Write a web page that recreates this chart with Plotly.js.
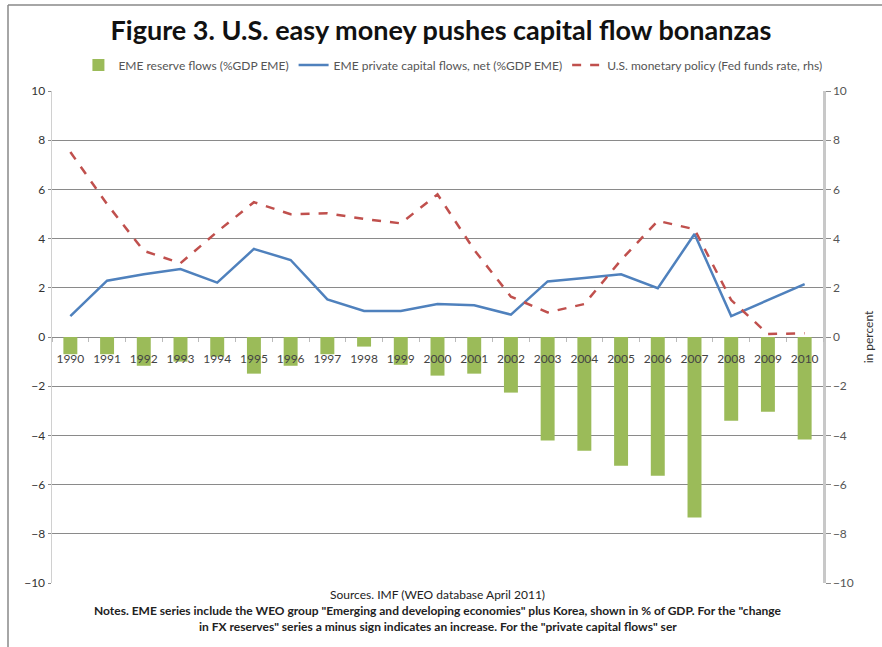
<!DOCTYPE html>
<html>
<head>
<meta charset="utf-8">
<script src="https://cdn.plot.ly/plotly-3.0.1.min.js"></script>
<style>
html,body{margin:0;padding:0;background:#fff;}
#chart{width:882px;height:647px;}
</style>
</head>
<body>
<div id="chart"></div>
<script>
const years = ['1990','1991','1992','1993','1994','1995','1996','1997','1998','1999','2000','2001','2002','2003','2004','2005','2006','2007','2008','2009','2010'];
const reserveFlows = [-0.7,-0.7,-1.17,-1.0,-0.8,-1.49,-1.17,-0.7,-0.39,-1.13,-1.57,-1.49,-2.26,-4.21,-4.62,-5.23,-5.64,-7.34,-3.4,-3.04,-4.17];
const privateFlows = [0.85,2.29,2.55,2.76,2.21,3.58,3.13,1.53,1.06,1.06,1.34,1.29,0.91,2.26,2.4,2.55,1.98,4.19,0.85,1.5,2.15];
const fedFunds = [7.52,5.4,3.5,3.0,4.28,5.48,4.99,5.03,4.8,4.62,5.8,3.54,1.64,1.0,1.34,3.13,4.72,4.38,1.5,0.12,0.15];
const yTicks = [-10,-8,-6,-4,-2,0,2,4,6,8,10];

const FONT = 'Lato, "Open Sans", sans-serif';

const traces = [
  {type:'bar', x:years, y:reserveFlows, name:'EME reserve flows (%GDP EME)',
   marker:{color:'#9BBB59'}, width:0.38},
  {type:'scatter', mode:'lines', x:years, y:privateFlows, name:'EME private capital flows, net (%GDP EME)',
   line:{color:'#4F81BD', width:2.5}},
  {type:'scatter', mode:'lines', x:years, y:fedFunds, name:'U.S. monetary policy (Fed funds rate, rhs)',
   yaxis:'y2', line:{color:'#C0504D', width:2.5, dash:'dash'}}
];

const layout = {
  width:882, height:647,
  margin:{l:52, r:59, t:91, b:64},
  paper_bgcolor:'#fff', plot_bgcolor:'#fff',
  font:{family:FONT, size:11, color:'#333'},
  showlegend:true,
  title:{text:'<b>Figure 3. U.S. easy money pushes capital flow bonanzas</b>', x:0.5, xanchor:'center', y:0.953, yanchor:'middle',
         font:{family:FONT, size:27, color:'#111'}},
  legend:{orientation:'h', x:0.52, xanchor:'center', y:1.053, yanchor:'middle',
          font:{family:FONT, size:12, color:'#555'}, bgcolor:'rgba(0,0,0,0)', itemwidth:30, tracegroupgap:0},
  bargap:0.62,
  xaxis:{type:'category', anchor:'free', position:0.5, showgrid:false, showline:false,
         ticks:'outside', tickson:'boundaries', ticklen:4, tickcolor:'#bbb', tickangle:0, ticklabelstandoff:13,
         tickfont:{family:FONT, size:12, color:'#444'}, fixedrange:true, zeroline:false},
  yaxis:{range:[-10,10], tickvals:yTicks, showgrid:true, gridcolor:'#8a8a8a', gridwidth:1,
         zeroline:true, zerolinecolor:'#8a8a8a', zerolinewidth:1,
         showline:true, linecolor:'#d0d0d0', linewidth:1.5,
         ticks:'outside', ticklen:3, tickcolor:'#8a8a8a',
         tickfont:{family:FONT, size:12, color:'#333'}},
  yaxis2:{range:[-10,10], tickvals:yTicks, overlaying:'y', side:'right', showgrid:false, zeroline:false,
          showline:true, linecolor:'#c8c8c8', linewidth:2.5,
          ticks:'outside', ticklen:5, tickcolor:'#8a8a8a',
          tickfont:{family:FONT, size:12, color:'#555'},
          title:{text:'in percent', standoff:12, font:{family:FONT, size:12, color:'#333'}}},
  shapes:[
    {type:'line', xref:'paper', yref:'paper', x0:(8-52)/771, x1:(882-52)/771, y0:1+(91-5)/492, y1:1+(91-5)/492,
     line:{color:'#888', width:1.5}},
    {type:'line', xref:'paper', yref:'paper', x0:(8-52)/771, x1:(8-52)/771, y0:1+(91-5)/492, y1:-(647-583)/492,
     line:{color:'#888', width:1.5}}
  ],
  annotations:[
    {xref:'paper', yref:'paper', x:0.5, y:-(594-583)/492, xanchor:'center', yanchor:'middle', showarrow:false,
     text:'Sources. IMF (WEO database April 2011)', font:{family:FONT, size:12, color:'#222'}},
    {xref:'paper', yref:'paper', x:0.5, y:-(610-583)/492, xanchor:'center', yanchor:'middle', showarrow:false,
     text:'<b>Notes. EME series include the WEO group "Emerging and developing economies" plus Korea, shown in % of GDP. For the "change</b>', font:{family:FONT, size:12, color:'#222'}},
    {xref:'paper', yref:'paper', x:0.5, y:-(626-583)/492, xanchor:'center', yanchor:'middle', showarrow:false,
     text:'<b>in FX reserves" series a minus sign indicates an increase. For the "private capital flows" ser</b>', font:{family:FONT, size:12, color:'#222'}}
  ]
};

Plotly.newPlot('chart', traces, layout, {displayModeBar:false, staticPlot:true});
</script>
</body>
</html>
